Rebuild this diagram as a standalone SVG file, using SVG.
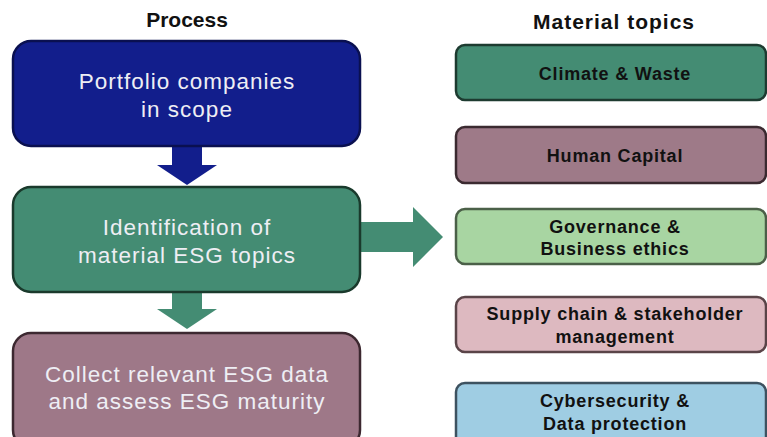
<svg xmlns="http://www.w3.org/2000/svg" width="767" height="437" viewBox="0 0 767 437">
  <style>
    .head { font-family: "Liberation Sans", Arial, sans-serif; font-weight: bold; font-size: 21px; fill: #111; text-anchor: middle; }
    .step { stroke-width: 2.5; }
    .step-text { font-family: "Liberation Sans", Arial, sans-serif; font-size: 22.5px; fill: #eeeef4; text-anchor: middle; letter-spacing: 1px; }
    .topic { stroke-width: 2.5; }
    .topic-text { font-family: "Liberation Sans", Arial, sans-serif; font-weight: bold; font-size: 18px; fill: #111; text-anchor: middle; letter-spacing: 0.8px; }
  </style>
  <rect width="767" height="437" fill="#ffffff"/>

  <!-- column headings -->
  <text class="head" x="187" y="27">Process</text>
  <text class="head" x="614" y="29" style="letter-spacing:1px">Material topics</text>

  <!-- connectors (block arrows) -->
  <g id="connectors">
    <polygon points="172,146 202,146 202,165 217,165 187,185 157,165 172,165" fill="#121E8C"/>
    <polygon points="172,292 202,292 202,309 217,309 187,329 157,309 172,309" fill="#448C73"/>
    <polygon points="358,222 413,222 413,207 443,237 413,267 413,252 358,252" fill="#448C73"/>
  </g>

  <!-- process steps -->
  <g id="step-portfolio">
    <rect class="step" x="13" y="41" width="347" height="105" rx="18" fill="#121E8C" stroke="#0a1050"/>
    <text class="step-text" x="187" y="89">Portfolio companies</text>
    <text class="step-text" x="187" y="117">in scope</text>
  </g>
  <g id="step-identification">
    <rect class="step" x="13" y="187" width="347" height="105" rx="18" fill="#448C73" stroke="#1a3a2c"/>
    <text class="step-text" x="187" y="235">Identification of</text>
    <text class="step-text" x="187" y="263">material ESG topics</text>
  </g>
  <g id="step-collect">
    <rect class="step" x="13" y="333" width="347" height="115" rx="18" fill="#9E7888" stroke="#3c2830"/>
    <text class="step-text" x="187" y="382">Collect relevant ESG data</text>
    <text class="step-text" x="187" y="409">and assess ESG maturity</text>
  </g>

  <!-- material topics -->
  <g id="topic-climate">
    <rect class="topic" x="456" y="45" width="310" height="55" rx="9" fill="#448C73" stroke="#1d3b30"/>
    <text class="topic-text" x="615" y="80">Climate &amp; Waste</text>
  </g>
  <g id="topic-human">
    <rect class="topic" x="456" y="127" width="310" height="56" rx="9" fill="#9E7A88" stroke="#3b2a30"/>
    <text class="topic-text" x="615" y="162">Human Capital</text>
  </g>
  <g id="topic-governance">
    <rect class="topic" x="456" y="209" width="310" height="55" rx="9" fill="#A8D5A2" stroke="#4b6048"/>
    <text class="topic-text" x="615" y="233">Governance &amp;</text>
    <text class="topic-text" x="615" y="255">Business ethics</text>
  </g>
  <g id="topic-supply">
    <rect class="topic" x="456" y="297" width="310" height="55" rx="9" fill="#DDB9C0" stroke="#5a4448"/>
    <text class="topic-text" x="615" y="320">Supply chain &amp; stakeholder</text>
    <text class="topic-text" x="615" y="343">management</text>
  </g>
  <g id="topic-cyber">
    <rect class="topic" x="456" y="383" width="310" height="65" rx="9" fill="#9FCDE3" stroke="#3d5260"/>
    <text class="topic-text" x="615" y="407">Cybersecurity &amp;</text>
    <text class="topic-text" x="615" y="430">Data protection</text>
  </g>
</svg>
